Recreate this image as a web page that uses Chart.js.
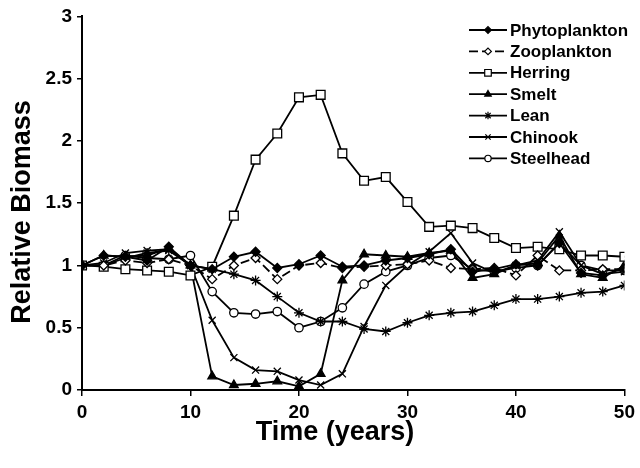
<!DOCTYPE html>
<html>
<head>
<meta charset="utf-8">
<script src="https://cdn.jsdelivr.net/npm/chart.js@4/dist/chart.umd.min.js"></script>
<style>
  html, body { margin: 0; padding: 0; background: #fff; }
  #wrap { width: 640px; height: 468px; position: relative; }
</style>
</head>
<body>
<div id="wrap"><canvas id="chart"></canvas></div>
<script>
// years sampled every 2 years
const years = [0,2,4,6,8,10,12,14,16,18,20,22,24,26,28,30,32,34,36,38,40,42,44,46,48,50];

const phytoplankton = [1.00,1.08,1.07,1.04,1.15,1.00,0.97,1.07,1.11,0.98,1.01,1.08,0.99,1.00,1.04,1.06,1.09,1.13,0.95,0.97,1.01,1.00,1.18,0.94,0.92,0.98];
const zooplankton  = [1.00,1.00,1.04,1.02,1.05,1.00,0.89,1.00,1.06,0.89,1.00,1.02,0.98,0.99,1.00,1.01,1.04,0.98,0.97,0.98,0.92,1.08,0.96,0.96,0.97,0.97];
const herring      = [1.00,0.99,0.97,0.96,0.95,0.92,0.99,1.40,1.85,2.06,2.35,2.37,1.90,1.68,1.71,1.51,1.31,1.32,1.30,1.22,1.14,1.15,1.13,1.08,1.08,1.07];
const smelt        = [1.00,1.08,1.07,1.08,1.14,1.00,0.11,0.04,0.05,0.07,0.03,0.13,0.88,1.09,1.08,1.07,1.10,1.12,0.90,0.93,1.00,1.02,1.24,0.93,0.90,1.00];
const lean         = [1.00,1.00,1.06,1.10,1.12,1.00,0.97,0.93,0.88,0.75,0.62,0.55,0.55,0.49,0.47,0.54,0.60,0.62,0.63,0.68,0.73,0.73,0.75,0.78,0.79,0.84];
const chinook      = [1.00,1.02,1.10,1.12,1.13,1.00,0.56,0.26,0.16,0.15,0.08,0.04,0.13,0.51,0.84,1.00,1.11,1.26,1.02,0.94,1.00,1.04,1.27,1.00,0.93,0.95];
const steelhead    = [1.00,1.00,1.08,1.06,1.05,1.08,0.79,0.62,0.61,0.63,0.50,0.55,0.66,0.85,0.95,1.00,1.06,1.08,0.97,0.95,0.98,1.00,1.18,1.00,0.96,0.96];

const xTitle = 'Time (years)';
const yTitle = 'Relative Biomass';

const FONT = "'Liberation Sans', Arial, Helvetica, sans-serif";

const pts = arr => years.map((t, i) => ({ x: t, y: arr[i] }));

function series(label, arr, style, fill, radius, dash) {
  return {
    label,
    data: pts(arr),
    borderColor: '#000',
    borderWidth: 1.8,
    borderDash: dash || [],
    pointStyle: style,
    pointRadius: radius,
    pointBorderWidth: 1.3,
    pointBorderColor: '#000',
    pointBackgroundColor: fill,
    tension: 0
  };
}

const datasets = [
  series('Phytoplankton', phytoplankton, 'rectRot', '#000', 4.5),
  series('Zooplankton', zooplankton, 'rectRot', '#fff', 4.5, [9, 4]),
  series('Herring', herring, 'rect', '#fff', 6.2),
  series('Smelt', smelt, 'triangle', '#000', 5),
  series('Lean', lean, 'star', '#000', 5),
  series('Chinook', chinook, 'crossRot', '#000', 5),
  series('Steelhead', steelhead, 'circle', '#fff', 4.2)
];

// legend drawn by hand: line with the marker in the middle
const lineLegend = {
  id: 'lineLegend',
  afterDraw(chart) {
    const ctx = chart.ctx;
    const x0 = 469, x1 = 507, top = 30, step = 21.4;
    ctx.save();
    chart.data.datasets.forEach((ds, i) => {
      const y = top + i * step;
      ctx.strokeStyle = '#000';
      ctx.lineWidth = 1.8;
      ctx.setLineDash(ds.borderDash);
      ctx.beginPath();
      ctx.moveTo(x0, y);
      ctx.lineTo(x1, y);
      ctx.stroke();
      ctx.setLineDash([]);
      ctx.fillStyle = ds.pointBackgroundColor;
      ctx.lineWidth = 1.2;
      Chart.helpers.drawPoint(ctx, {
        pointStyle: ds.pointStyle,
        radius: ds.pointRadius * 0.75,
        borderWidth: 1.2,
        rotation: 0
      }, (x0 + x1) / 2, y);
      ctx.fillStyle = '#000';
      ctx.font = 'bold 17px ' + FONT;
      ctx.textBaseline = 'middle';
      ctx.textAlign = 'left';
      ctx.fillText(ds.label, 510, y + 1);
    });
    ctx.restore();
  }
};

// axis titles, placed like the original figure
const axisTitles = {
  id: 'axisTitles',
  afterDraw(chart) {
    const ctx = chart.ctx;
    ctx.save();
    ctx.fillStyle = '#000';
    ctx.font = 'bold 27px ' + FONT;
    ctx.textAlign = 'center';
    ctx.textBaseline = 'middle';
    ctx.fillText(xTitle, 335, 433);
    ctx.translate(23, 212);
    ctx.rotate(-Math.PI / 2);
    ctx.fillText(yTitle, 0, 0);
    ctx.restore();
  }
};

new Chart(document.getElementById('chart'), {
  type: 'line',
  data: { datasets },
  options: {
    responsive: true,
    maintainAspectRatio: false,
    animation: false,
    layout: { padding: { top: 15, right: 10, left: 0, bottom: 0 } },
    plugins: { legend: { display: false }, tooltip: { enabled: false } },
    scales: {
      x: {
        type: 'linear',
        min: 0,
        max: 50,
        afterFit: s => { s.height = 78; },
        ticks: { stepSize: 10, color: '#000', padding: 5, font: { family: FONT, size: 19, weight: 'bold' } },
        grid: { drawOnChartArea: false, drawTicks: true, tickLength: 6, color: '#000', lineWidth: 1.5 },
        border: { color: '#000', width: 2 }
      },
      y: {
        min: 0,
        max: 3,
        afterFit: s => { s.width = 82; },
        ticks: { stepSize: 0.5, color: '#000', padding: 5, callback: v => String(v), font: { family: FONT, size: 19, weight: 'bold' } },
        grid: { drawOnChartArea: false, drawTicks: true, tickLength: 5, color: '#000', lineWidth: 1.5 },
        border: { color: '#000', width: 2 }
      }
    }
  },
  plugins: [lineLegend, axisTitles]
});
</script>
</body>
</html>
